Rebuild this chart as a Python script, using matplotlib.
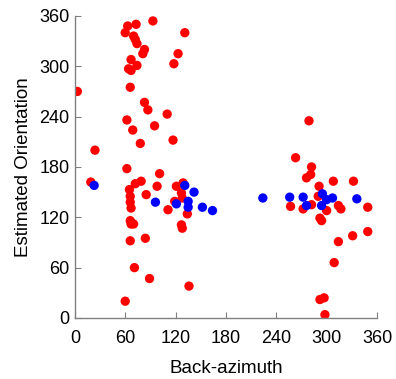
import matplotlib
matplotlib.use('Agg')
import matplotlib.pyplot as plt

plt.rcParams['font.family'] = ['Liberation Sans', 'DejaVu Sans']

# back-azimuth / estimated orientation
red_x = [3, 24, 19, 62, 63, 73, 60, 70, 72, 74, 93, 131, 83, 81, 123, 118,
         67, 74, 64, 67, 66, 83, 87, 110, 62, 69, 95, 78, 117, 101, 79, 72,
         65, 98, 85, 66, 66, 67, 111, 121, 129, 127, 128, 119, 134, 127, 128,
         66, 67, 70, 84, 66, 71, 89, 60, 136,
         279, 263, 282, 281, 276, 308, 332, 291, 257, 272, 282, 290, 300, 292,
         294, 314, 317, 349, 349, 331, 314, 309, 292, 297, 298]
red_y = [270, 200, 162, 178, 348, 350, 340, 336, 332, 327, 354, 340, 320, 315,
         315, 303, 308, 301, 297, 295, 275, 257, 248, 243, 236, 224, 229, 208,
         212, 172, 163, 160, 153, 157, 147, 145, 138, 131, 129, 157, 161, 149,
         143, 139, 124, 111, 107, 116, 112, 112, 95, 92, 60, 47, 20, 38,
         235, 191, 180, 171, 167, 163, 163, 157, 133, 130, 135, 145, 128, 119,
         116, 134, 130, 132, 103, 98, 91, 66, 22, 24, 4]

blue_x = [23, 96, 121, 131, 142, 135, 135, 152, 164,
          224, 256, 272, 276, 295, 300, 307, 294, 336]
blue_y = [158, 138, 136, 158, 150, 139, 132, 132, 128,
          143, 144, 144, 134, 148, 141, 143, 134, 142]

ticks = [0, 60, 120, 180, 240, 300, 360]

fig = plt.figure(figsize=(3.96, 3.79), dpi=100)
ax = fig.add_axes([0.189, 0.161, 0.763, 0.797])

ax.scatter(red_x, red_y, s=45, color='#ff0000', edgecolors='none', zorder=2)
ax.scatter(blue_x, blue_y, s=45, color='#0000ff', edgecolors='none', zorder=3)

ax.set_xlim(0, 360)
ax.set_ylim(0, 360)
ax.set_xticks(ticks)
ax.set_yticks(ticks)

for side in ['top', 'right']:
    ax.spines[side].set_visible(False)
for side in ['left', 'bottom']:
    ax.spines[side].set_color('#808080')
    ax.spines[side].set_linewidth(1.0)

ax.tick_params(axis='both', direction='in', length=4, color='#808080',
               labelsize=13, labelcolor='black')
ax.tick_params(axis='x', pad=9)
ax.tick_params(axis='y', pad=4)

ax.set_xlabel('Back-azimuth', fontsize=13.5, labelpad=9)
ax.set_ylabel('Estimated Orientation', fontsize=13.5, labelpad=5)

fig.savefig('out.png', dpi=100)
